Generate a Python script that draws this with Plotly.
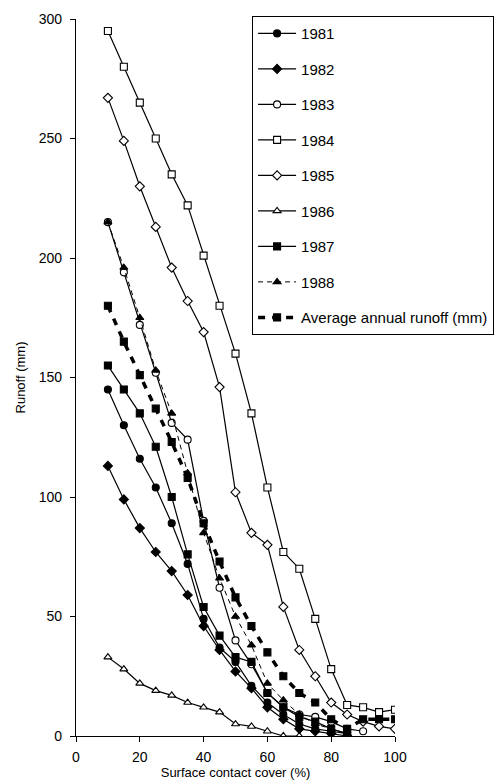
import plotly.graph_objects as go

# surface contact cover (%)
cover = [10, 15, 20, 25, 30, 35, 40, 45, 50, 55, 60, 65, 70, 75, 80, 85, 90, 95, 100]

# runoff (mm)
r1981 = [145, 130, 116, 104, 89, 72, 49, 37, 31, 21, 14, 9, 5, 3, 2, 1]
r1982 = [113, 99, 87, 77, 69, 59, 46, 36, 27, 20, 12, 7, 3, 2, 1, 0]
r1983 = [215, 194, 172, 152, 131, 124, 90, 62, 40, 30, 18, 12, 9, 8, 6, 3, 2]
r1984 = [295, 280, 265, 250, 235, 222, 201, 180, 160, 135, 104, 77, 70, 49, 28, 13, 12, 10, 11]
r1985 = [267, 249, 230, 213, 196, 182, 169, 146, 102, 85, 80, 54, 36, 25, 14, 9, 6, 4, 3]
r1986 = [33, 28, 22, 19, 17, 14, 12, 10, 5, 4, 2, 0, 0]
r1987 = [155, 145, 135, 121, 100, 76, 54, 42, 33, 31, 18, 12, 8, 6, 3, 1]
r1988 = [215, 196, 175, 153, 135, 110, 85, 66, 50, 38, 22, 15, 9, 5, 3, 1]
r_avg = [180, 165, 151, 137, 123, 108, 89, 73, 58, 46, 35, 25, 18, 14, 7, 3, 7, 7, 7]

FONT = "Liberation Sans, Arial, sans-serif"

# name, values, marker symbol, marker fill, line dash, line width
series = [
    ("1981", r1981, "circle", "black", "solid", 1.2),
    ("1982", r1982, "diamond", "black", "solid", 1.2),
    ("1983", r1983, "circle", "white", "solid", 1.2),
    ("1984", r1984, "square", "white", "solid", 1.2),
    ("1985", r1985, "diamond", "white", "solid", 1.2),
    ("1986", r1986, "triangle-up", "white", "solid", 1.2),
    ("1987", r1987, "square", "black", "solid", 1.2),
    ("1988", r1988, "triangle-up", "black", "5px,4px", 1.0),
    ("Average annual runoff (mm)", r_avg, "square", "black", "7px,7px", 3.5),
]

fig = go.Figure()
for i, (name, vals, sym, fill, dash, lw) in enumerate(series):
    fig.add_trace(go.Scatter(
        x=cover[:len(vals)], y=vals, mode="lines+markers", name=name,
        legendgroup=str(i),
        line=dict(color="black", width=lw, dash=dash),
        marker=dict(symbol=sym, size=7, color=fill,
                    line=dict(color="black", width=1.1)),
    ))

fig.update_layout(
    width=503, height=780,
    margin=dict(l=68, r=116, t=11, b=52, autoexpand=False),
    plot_bgcolor="white", paper_bgcolor="white",
    font=dict(family=FONT, size=14, color="black"),
    showlegend=True,
    legend=dict(
        x=0.552, y=1.004, xanchor="left", yanchor="top",
        bgcolor="white", bordercolor="black", borderwidth=1,
        tracegroupgap=13, traceorder="grouped", itemwidth=38,
        entrywidth=225, entrywidthmode="pixels",
        font=dict(family=FONT, size=15, color="black"),
    ),
)
fig.update_xaxes(
    range=[0, 100], tickvals=[0, 20, 40, 60, 80, 100],
    showline=True, linecolor="black", linewidth=1.2,
    ticks="outside", ticklen=5, tickcolor="black",
    showgrid=False, zeroline=False, automargin=False,
    ticklabelstandoff=3,
    title=dict(text="Surface contact cover (%)", font=dict(size=13), standoff=2),
    tickfont=dict(size=14),
)
fig.update_yaxes(
    range=[0, 300], tickvals=[0, 50, 100, 150, 200, 250, 300],
    showline=True, linecolor="black", linewidth=1.2,
    ticks="outside", ticklen=5, tickcolor="black",
    showgrid=False, zeroline=False, automargin=False,
    ticklabelstandoff=5,
    title=dict(text="Runoff (mm)", font=dict(size=13), standoff=10),
    tickfont=dict(size=14),
)

fig.write_html("out.html")
